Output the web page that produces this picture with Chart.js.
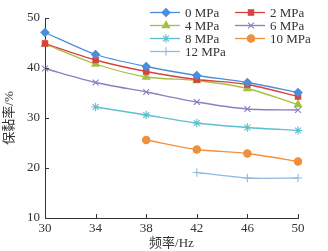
<!DOCTYPE html>
<html>
<head>
<meta charset="utf-8">
<script src="https://cdn.jsdelivr.net/npm/chart.js@4"></script>
<style>
  html, body { margin: 0; padding: 0; background: #fff; }
  #wrap { position: relative; width: 328px; height: 251px; }
</style>
</head>
<body>
<div id="wrap"><canvas id="c" width="328" height="251"></canvas></div>
<script>
// 频率 (Hz) vs 保黏率 (%) under different pressures
var FREQ = ['30', '34', '38', '42', '46', '50'];
var Y_TICKS = [10, 20, 30, 40, 50];

var P0  = [47.1, 42.7, 40.3, 38.5, 37.1, 35.1];
var P2  = [44.9, 41.6, 39.3, 37.7, 36.7, 34.3];
var P4  = [44.8, 40.8, 38.2, 37.5, 35.9, 32.7];
var P6  = [39.9, 37.1, 35.2, 33.2, 31.8, 31.6];
var P8  = [null, 32.2, 30.6, 29.0, 28.1, 27.5];
var P10 = [null, null, 25.6, 23.7, 22.9, 21.3];
var P12 = [null, null, null, 19.1, 18.0, 18.0];

var SERIES_NAMES = ['0 MPa', '2 MPa', '4 MPa', '6 MPa', '8 MPa', '10 MPa', '12 MPa'];
var SERIES_DATA = [P0, P2, P4, P6, P8, P10, P12];
var SERIES_COLORS = ['#4a8fdc', '#d9413f', '#a4c043', '#8f7cc4', '#5ec0cf', '#f0903c', '#93b8e2'];
var SERIES_MARKERS = ['rectRot', 'rect', 'triangle', 'crossRot', 'star', 'circle', 'cross'];
var MARKER_SIZE = [4, 3.8, 4.2, 4.2, 4.2, 3.7, 4.2];

var FONT = '"Liberation Serif", "Noto Sans CJK SC", serif';
var INK = '#333';

var datasets = SERIES_NAMES.map(function (name, i) {
  return {
    label: name,
    data: SERIES_DATA[i],
    borderColor: SERIES_COLORS[i],
    backgroundColor: SERIES_COLORS[i],
    pointBorderColor: SERIES_COLORS[i],
    pointBackgroundColor: SERIES_COLORS[i],
    pointStyle: SERIES_MARKERS[i],
    pointRadius: MARKER_SIZE[i],
    pointBorderWidth: 1.1,
    borderWidth: 1.3,
    tension: 0.25,
    spanGaps: false
  };
});

// inward ticks, like the journal figure
var inwardTicks = {
  id: 'inwardTicks',
  afterDraw: function (chart) {
    var ctx = chart.ctx, x = chart.scales.x, y = chart.scales.y;
    var a = chart.chartArea;
    ctx.save();
    ctx.strokeStyle = INK;
    ctx.lineWidth = 1;
    ctx.beginPath();
    FREQ.forEach(function (f, i) {
      var px = Math.round(x.getPixelForValue(i)) + 0.5;
      ctx.moveTo(px, a.bottom);
      ctx.lineTo(px, a.bottom - 4);
    });
    Y_TICKS.forEach(function (v) {
      var py = Math.round(y.getPixelForValue(v)) + 0.5;
      ctx.moveTo(a.left, py);
      ctx.lineTo(a.left + 4, py);
    });
    ctx.stroke();
    ctx.restore();
  }
};

// two-column legend in the upper right corner
var twoColLegend = {
  id: 'twoColLegend',
  afterDraw: function (chart) {
    var ctx = chart.ctx;
    var cols = [150, 235];
    var rowY = [12.5, 25.5, 38.5, 51.5];
    ctx.save();
    ctx.font = '13px ' + FONT;
    ctx.textBaseline = 'middle';
    SERIES_NAMES.forEach(function (name, i) {
      var cx = cols[i % 2], cy = rowY[Math.floor(i / 2)];
      ctx.strokeStyle = SERIES_COLORS[i];
      ctx.lineWidth = 1.3;
      ctx.beginPath();
      ctx.moveTo(cx, cy);
      ctx.lineTo(cx + 30, cy);
      ctx.stroke();
      ctx.fillStyle = SERIES_COLORS[i];
      ctx.lineWidth = 1.1;
      Chart.helpers.drawPoint(ctx, { pointStyle: SERIES_MARKERS[i], radius: MARKER_SIZE[i], rotation: 0, borderWidth: 1.1 }, cx + 16, cy);
      ctx.fillStyle = INK;
      ctx.fillText(name, cx + 35, cy + 1);
    });
    ctx.restore();
  }
};

new Chart(document.getElementById('c'), {
  type: 'line',
  data: { labels: FREQ, datasets: datasets },
  plugins: [inwardTicks, twoColLegend],
  options: {
    responsive: false,
    animation: false,
    layout: { padding: { top: 18, right: 30, left: 2, bottom: 0 } },
    plugins: {
      legend: { display: false },
      tooltip: { enabled: false }
    },
    scales: {
      x: {
        type: 'category',
        offset: false,
        grid: { display: false, drawTicks: false },
        border: { display: true, color: INK, width: 1 },
        ticks: { color: INK, font: { family: FONT, size: 13 }, padding: 3, maxRotation: 0, autoSkip: false },
        title: { display: true, text: '频率/Hz', color: INK, font: { family: FONT, size: 13 }, padding: { top: 0, bottom: 0 } },
        afterFit: function (s) { s.height = 33; }
      },
      y: {
        min: 10, max: 50,
        grid: { display: false, drawTicks: false },
        border: { display: true, color: INK, width: 1 },
        ticks: { stepSize: 10, color: INK, font: { family: FONT, size: 13 }, padding: 5 },
        title: { display: true, text: '保黏率/%', color: INK, font: { family: FONT, size: 13 }, padding: { top: 0, bottom: 2 } },
        afterFit: function (s) { s.width = 43; }
      }
    }
  }
});
</script>
</body>
</html>
